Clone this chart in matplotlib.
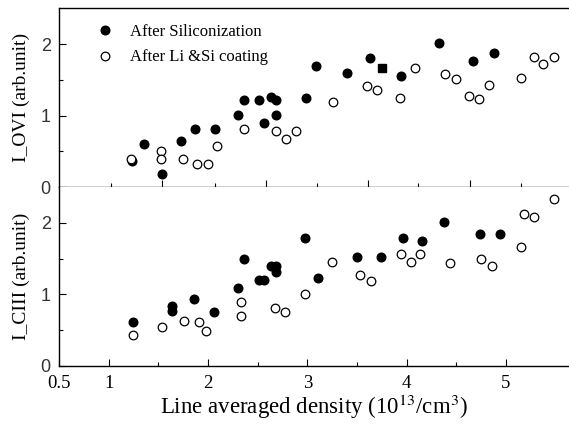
import matplotlib
matplotlib.use('Agg')
import matplotlib.pyplot as plt
from matplotlib.ticker import FixedLocator, NullFormatter

plt.rcParams['font.family'] = ['Liberation Serif', 'DejaVu Serif']
plt.rcParams['mathtext.fontset'] = 'stix'

# I_OVI panel (top)
ovi_si_x = [1.24, 1.36, 1.54, 1.73, 1.87, 2.07, 2.30, 2.36, 2.51, 2.56, 2.63, 2.69, 2.69,
            2.99, 3.09, 3.40, 3.63, 3.94, 4.33, 4.67, 4.88]
ovi_si_y = [0.37, 0.60, 0.18, 0.65, 0.81, 0.81, 1.01, 1.22, 1.22, 0.90, 1.26, 1.22, 1.01,
            1.25, 1.70, 1.60, 1.81, 1.55, 2.01, 1.77, 1.88]
ovi_sq_x = [3.75]
ovi_sq_y = [1.67]
ovi_li_x = [1.23, 1.53, 1.53, 1.75, 1.89, 2.00, 2.09, 2.36, 2.69, 2.79, 2.89, 3.26,
            3.60, 3.70, 3.93, 4.09, 4.39, 4.50, 4.63, 4.73, 4.83, 5.15, 5.28, 5.37, 5.48]
ovi_li_y = [0.40, 0.50, 0.39, 0.40, 0.33, 0.33, 0.58, 0.81, 0.78, 0.67, 0.78, 1.19,
            1.41, 1.36, 1.24, 1.67, 1.58, 1.51, 1.27, 1.23, 1.43, 1.53, 1.82, 1.72, 1.82]

# I_CIII panel (bottom)
ciii_si_x = [1.25, 1.64, 1.64, 1.86, 2.06, 2.30, 2.36, 2.51, 2.56, 2.63, 2.69, 2.69,
             2.98, 3.11, 3.50, 3.74, 3.96, 4.16, 4.38, 4.74, 4.94]
ciii_si_y = [0.61, 0.84, 0.77, 0.93, 0.75, 1.09, 1.50, 1.20, 1.20, 1.40, 1.40, 1.31,
             1.79, 1.23, 1.53, 1.52, 1.79, 1.75, 2.01, 1.84, 1.84]
ciii_li_x = [1.25, 1.54, 1.76, 1.91, 1.98, 2.33, 2.33, 2.68, 2.78, 2.98, 3.25, 3.53,
             3.64, 3.94, 4.04, 4.14, 4.44, 4.75, 4.86, 5.15, 5.18, 5.28, 5.48]
ciii_li_y = [0.43, 0.54, 0.62, 0.61, 0.49, 0.89, 0.69, 0.81, 0.75, 1.01, 1.46, 1.27,
             1.19, 1.56, 1.46, 1.56, 1.44, 1.49, 1.40, 1.66, 2.13, 2.08, 2.33]

x_major = [0.5, 1, 2, 3, 4, 5]
x_major_labels = ['0.5', '1', '2', '3', '4', '5']
x_minor = [1.5, 2.5, 3.5, 4.5]
top_major = [1.54, 2.58, 3.61, 4.64]
top_minor = [1.02, 2.07, 3.10, 4.12, 5.15]

fig = plt.figure(figsize=(5.69, 4.24), dpi=100)
ax1 = fig.add_axes([0.1037, 0.5583, 0.8963, 0.4222])
ax2 = fig.add_axes([0.1037, 0.1375, 0.8963, 0.4208])

mk = dict(linestyle='none', marker='o', markersize=6.2)
ax1.plot(ovi_si_x, ovi_si_y, color='black', label='After Siliconization', **mk)
ax1.plot(ovi_sq_x, ovi_sq_y, linestyle='none', marker='s', markersize=5.5, color='black')
ax1.plot(ovi_li_x, ovi_li_y, markerfacecolor='white', markeredgecolor='black',
         markeredgewidth=0.9, label='After Li &Si coating', **mk)
ax2.plot(ciii_si_x, ciii_si_y, color='black', **mk)
ax2.plot(ciii_li_x, ciii_li_y, markerfacecolor='white', markeredgecolor='black',
         markeredgewidth=0.9, **mk)

for ax in (ax1, ax2):
    ax.set_xlim(0.5, 5.636)
    ax.set_ylim(0, 2.5)
    ax.spines['right'].set_visible(False)
    for s in ax.spines.values():
        s.set_linewidth(1.0)
    ax.yaxis.set_major_locator(FixedLocator([0, 1, 2]))
    ax.yaxis.set_minor_locator(FixedLocator([0.5, 1.5]))
    ax.tick_params(axis='both', which='major', direction='in', length=5, width=0.8,
                   top=False, right=False)
    ax.tick_params(axis='both', which='minor', direction='in', length=3, width=0.8,
                   top=False, right=False)
    for t in ax.get_yticklabels():
        t.set_fontfamily('Liberation Sans')
        t.set_fontsize(13)
        t.set_color('#333333')
    ax.tick_params(axis='y', pad=6)

ax1.xaxis.set_major_locator(FixedLocator(top_major))
ax1.xaxis.set_minor_locator(FixedLocator(top_minor))
ax1.xaxis.set_major_formatter(NullFormatter())

ax2.spines['top'].set_visible(False)
ax2.xaxis.set_major_locator(FixedLocator(x_major))
ax2.xaxis.set_minor_locator(FixedLocator(x_minor))
ax2.set_xticklabels(x_major_labels, fontsize=13.5)
ax2.tick_params(axis='x', pad=7)

ax1.set_ylabel('I_OVI (arb.unit)', fontsize=14)
ax2.set_ylabel('I_CIII (arb.unit)', fontsize=14)
ax1.yaxis.set_label_coords(-0.056, 0.5)
ax2.yaxis.set_label_coords(-0.056, 0.5)
ax2.set_xlabel('Line averaged density (10$^{13}$/cm$^{3}$)', fontsize=16.5, labelpad=0)

ax1.legend(loc='upper left', bbox_to_anchor=(0.047, 0.985), frameon=False, fontsize=12,
           handlelength=1.0, handletextpad=1.0, labelspacing=0.55, borderaxespad=0.4)

fig.savefig('out.png', dpi=100)
